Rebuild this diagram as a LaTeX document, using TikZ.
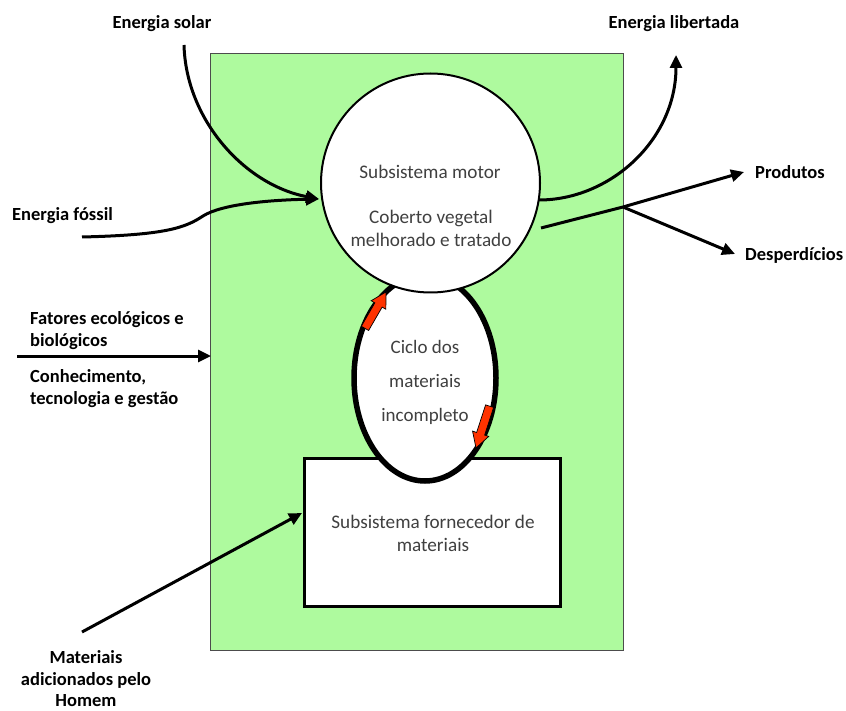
\documentclass[tikz,border=0pt]{standalone}
\usepackage{fontspec}
\setmainfont{Carlito}
\usetikzlibrary{arrows.meta,calc,shapes.geometric}

\definecolor{fieldgreen}{RGB}{174,250,158}
\definecolor{bodytext}{RGB}{64,64,64}
\definecolor{cyclered}{RGB}{255,51,0}

\tikzset{
  lbl/.style={font=\bfseries\fontsize{18.5}{22}\selectfont, inner sep=0pt, text=black},
  body/.style={font=\fontsize{19.2}{23}\selectfont, inner sep=0pt, text=bodytext, align=center},
  flow/.style={line width=3pt, -{Triangle[length=13pt,width=12pt]}},
  plainflow/.style={line width=3pt},
  cyclearrow/.style={fill=cyclered, draw=black, line width=0.7pt, line join=miter},
}

\begin{document}
\begin{tikzpicture}[x=1pt,y=-1pt]
  \useasboundingbox (0,0) rectangle (846,711);

  % system boundary
  \node[draw=black!70, line width=1.2pt, fill=fieldgreen, minimum width=413pt,
        minimum height=597pt, inner sep=0, anchor=north west] (system) at (210,53) {};

  % material supply subsystem
  \node[draw=black, line width=3pt, fill=white, minimum width=256pt,
        minimum height=148pt, inner sep=0, anchor=north west] (supply) at (303,457) {};
  \node[body] (supplytxt) at (433,533) {Subsistema fornecedor de\\materiais};

  % incomplete material cycle
  \node[ellipse, draw=black, line width=5.5pt, fill=white, minimum width=142pt,
        minimum height=206pt, inner sep=0] (cycle) at (425,378) {};
  \node[body, font=\fontsize{19}{34}\selectfont] (cycletxt) at (425,382)
        {Ciclo dos\\materiais\\incompleto};

  % engine subsystem
  \node[circle, draw=black, line width=2pt, fill=white, minimum size=219pt,
        inner sep=0] (motor) at (430.5,183) {};
  \node[body] (motortxt1) at (430,172) {Subsistema motor};
  \node[body] (motortxt2) at (431,228) {Coberto vegetal\\melhorado e tratado};

  % red block arrows along the cycle (tip at the origin, body along +x)
  \coordinate (c1tip) at (386,292);
  \coordinate (c2tip) at (476,448);
  \begin{scope}[shift={(c1tip)}, rotate=-120]
    \filldraw[cyclearrow] (0,0) -- (15,8.5) -- (15,4.2) -- (42,4.2)
      -- (42,-4.2) -- (15,-4.2) -- (15,-8.5) -- cycle;
  \end{scope}
  \begin{scope}[shift={(c2tip)}, rotate=72]
    \filldraw[cyclearrow] (0,0) -- (15,8.5) -- (15,4.2) -- (44,4.2)
      -- (44,-4.2) -- (15,-4.2) -- (15,-8.5) -- cycle;
  \end{scope}

  % outside labels
  \node[lbl] (solar) at (162,24) {Energia solar};
  \node[lbl] (libert) at (674,24) {Energia libertada};
  \node[lbl, anchor=west] (prod) at (755,172) {Produtos};
  \node[lbl, anchor=west] (desp) at (745,255) {Desperdícios};
  \node[lbl, anchor=west] (fossil) at (12,216) {Energia fóssil};
  \node[lbl, anchor=west, align=left] (fatores) at (30,331)
        {Fatores ecológicos e\\biológicos};
  \node[lbl, anchor=west, align=left] (conhec) at (30,389)
        {Conhecimento,\\tecnologia e gestão};
  \node[lbl, align=center, font=\bfseries\fontsize{18.5}{21.5}\selectfont]
        (homem) at (86,679) {Materiais\\adicionados pelo\\Homem};

  % connector end points
  \coordinate (solarstart) at (184,45);
  \coordinate (motorin) at (319,199);
  \coordinate (fossilstart) at (82,237);
  \coordinate (motorout1) at (539,200);
  \coordinate (libertend) at (676,55);
  \coordinate (motorout2) at (541,228);
  \coordinate (split) at (623,207);
  \coordinate (prodend) at (744,172);
  \coordinate (despend) at (735,254);
  \coordinate (fatstart) at (17,356);
  \coordinate (fatend) at (211,356);
  \coordinate (homemstart) at (82,632);
  \coordinate (supplyin) at (302,513);

  % energy inputs
  \draw[flow] (solarstart) .. controls (186,120) and (245,185) .. (motorin);
  \draw[flow] (fossilstart) .. controls (165,235) and (185,228) .. (203,216)
              .. controls (222,204) and (270,200) .. (motorin);

  % energy released
  \draw[flow] (motorout1) .. controls (610,200) and (676,140) .. (libertend);

  % products and waste
  \draw[plainflow] (motorout2) -- (split);
  \draw[flow] (split) -- (prodend);
  \draw[flow] (split) -- (despend);

  % ecological factors and knowledge
  \draw[flow] (fatstart) -- (fatend);

  % materials added by man
  \draw[flow] (homemstart) -- (supplyin);
\end{tikzpicture}
\end{document}
